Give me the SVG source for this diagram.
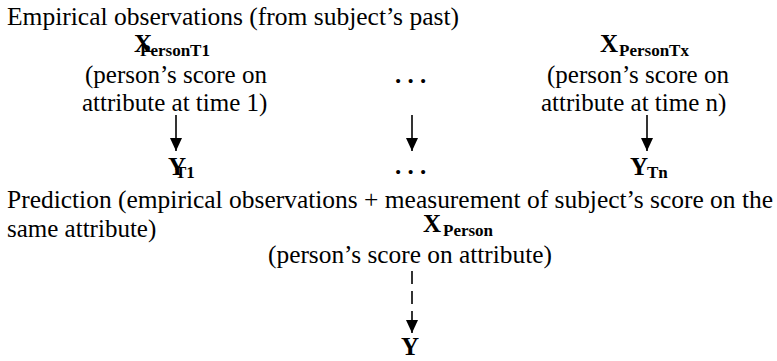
<svg xmlns="http://www.w3.org/2000/svg" width="777" height="361" viewBox="0 0 777 361" font-family="Liberation Serif">
<style>
.t{font-family:'Liberation Serif',serif;font-size:25px;fill:#000}
.X{font-family:'Liberation Serif',serif;font-size:25px;font-weight:bold;fill:#000}
.s{font-family:'Liberation Serif',serif;font-size:17px;font-weight:bold;fill:#000}
.c{stroke:#000;stroke-width:1.6;fill:none}
</style>
<defs>
<marker id="ah" markerUnits="userSpaceOnUse" markerWidth="13" markerHeight="12" viewBox="0 0 13 12" refX="13" refY="6" orient="auto">
<path d="M0,0 L13,6 L0,12 z" fill="#000"/>
</marker>
</defs>
<g id="heading1"><text class="t" x="7" y="25" textLength="452" lengthAdjust="spacingAndGlyphs">Empirical observations (from subject’s past)</text></g>
<g id="node-xt1">
<text class="X" x="134" y="52">X</text>
<text class="s" x="140" y="56" textLength="70" lengthAdjust="spacingAndGlyphs">PersonT1</text>
<text class="t" x="85" y="83">(person’s score on</text>
<text class="t" x="82" y="111">attribute at time 1)</text>
</g>
<g id="node-dots1"><text class="X" x="395" y="83">. . .</text></g>
<g id="node-xtx">
<text class="X" x="600" y="52">X</text>
<text class="s" x="619" y="56" textLength="70" lengthAdjust="spacingAndGlyphs">PersonTx</text>
<text class="t" x="547" y="83">(person’s score on</text>
<text class="t" x="541" y="111">attribute at time n)</text>
</g>
<g id="node-yt1">
<text class="X" x="168" y="175">Y</text>
<text class="s" x="175" y="178">T1</text>
</g>
<g id="node-dots2"><text class="X" x="395" y="174">. . .</text></g>
<g id="node-ytn">
<text class="X" x="630" y="175">Y</text>
<text class="s" x="647" y="178">Tn</text>
</g>
<g id="heading2">
<text class="t" x="7" y="208" textLength="766" lengthAdjust="spacingAndGlyphs">Prediction (empirical observations + measurement of subject’s score on the</text>
<text class="t" x="7" y="237">same attribute)</text>
</g>
<g id="node-xperson">
<text class="X" x="423" y="232">X</text>
<text class="s" x="443" y="236">Person</text>
<text class="t" x="268" y="263" textLength="284" lengthAdjust="spacingAndGlyphs">(person’s score on attribute)</text>
</g>
<g id="node-y"><text class="X" x="401" y="355">Y</text></g>
<g id="connectors">
<line class="c" x1="176" y1="115" x2="176" y2="151" marker-end="url(#ah)"/>
<line class="c" x1="412" y1="115" x2="412" y2="151" marker-end="url(#ah)"/>
<line class="c" x1="647" y1="115" x2="647" y2="151" marker-end="url(#ah)"/>
<line class="c" x1="412" y1="271" x2="412" y2="333" stroke-dasharray="13 7" marker-end="url(#ah)"/>
</g>
</svg>
